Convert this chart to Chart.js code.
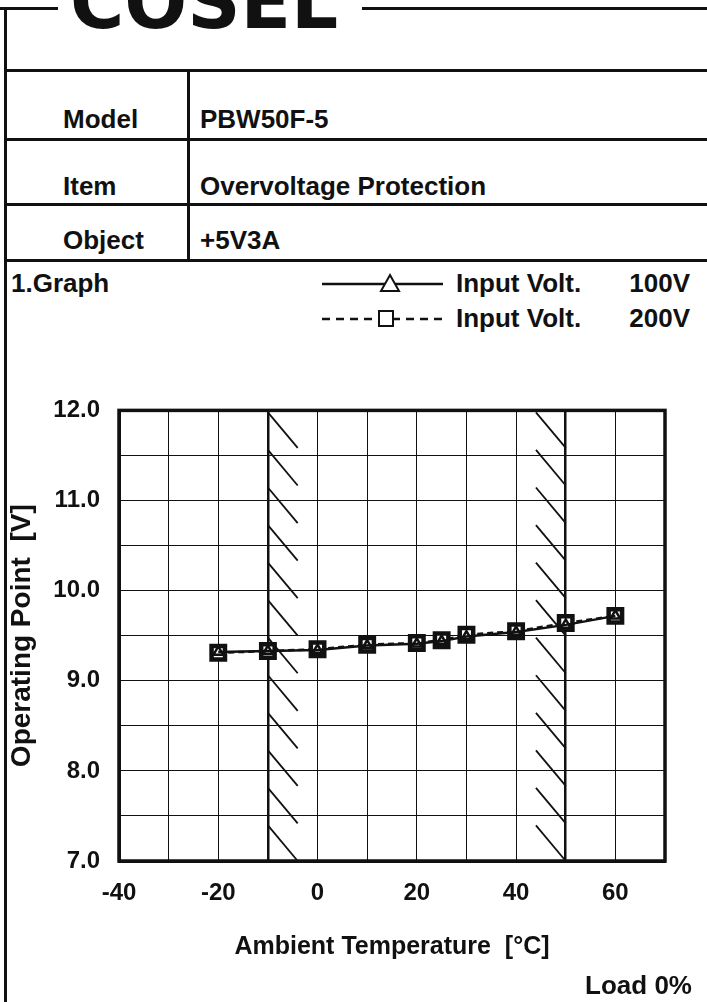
<!DOCTYPE html>
<html>
<head>
<meta charset="utf-8">
<title>PBW50F-5 Overvoltage Protection</title>
<script src="https://cdn.jsdelivr.net/npm/chart.js@4.4.1/dist/chart.umd.min.js"></script>
<style>
    html, body { margin: 0; padding: 0; background: #fff; }
    body {
        width: 707px; height: 1002px; position: relative; overflow: hidden;
        font-family: "Liberation Sans", Arial, sans-serif; font-weight: bold; color: #111;
    }
    .rule { position: absolute; background: #111; }
    .txt { position: absolute; font-size: 26px; line-height: 1; white-space: nowrap; }
    #logo {
        position: absolute; left: 70px; top: -35px;
        font-family: "DejaVu Sans", sans-serif; font-size: 74px; line-height: 74px;
        font-weight: bold;
    }
    #legendMarks { position: absolute; left: 318px; top: 270px; }
    #chartBox { position: absolute; left: 0; top: 377px; }
    #chartBox canvas { display: block; }
</style>
</head>
<body>

<!-- sheet frame and header table -->
<div class="rule" style="left:0;top:7px;width:58px;height:3px"></div>
<div class="rule" style="left:362px;top:7px;width:345px;height:3px"></div>
<div id="logo">COSEL</div>
<div class="rule" style="left:4px;top:7px;width:3px;height:995px"></div>
<div class="rule" style="left:4px;top:69px;width:703px;height:3px"></div>
<div class="rule" style="left:187px;top:70px;width:2.5px;height:190px"></div>
<div class="rule" style="left:4px;top:138px;width:703px;height:2.5px"></div>
<div class="rule" style="left:4px;top:203px;width:703px;height:2.5px"></div>
<div class="rule" style="left:4px;top:259px;width:703px;height:2.5px"></div>

<div class="txt" style="left:63px;top:106px">Model</div>
<div class="txt" style="left:200px;top:106px">PBW50F-5</div>
<div class="txt" style="left:63px;top:173px">Item</div>
<div class="txt" style="left:200px;top:173px">Overvoltage Protection</div>
<div class="txt" style="left:63px;top:227px">Object</div>
<div class="txt" style="left:200px;top:227px">+5V3A</div>

<div class="txt" style="left:11px;top:270px">1.Graph</div>

<!-- legend -->
<svg id="legendMarks" width="132" height="62">
    <line x1="4" y1="14" x2="125" y2="14" stroke="#111" stroke-width="2.5"/>
    <polygon points="72,5 81,21 63,21" fill="#fff" stroke="#111" stroke-width="2"/>
    <line x1="4" y1="49" x2="125" y2="49" stroke="#111" stroke-width="2.5" stroke-dasharray="8,6"/>
    <rect x="61" y="41" width="14" height="15" fill="#fff" stroke="#111" stroke-width="2"/>
</svg>
<div class="txt" style="left:456px;top:270px">Input Volt.</div>
<div class="txt" style="right:17px;top:270px">100V</div>
<div class="txt" style="left:456px;top:305px">Input Volt.</div>
<div class="txt" style="right:17px;top:305px">200V</div>

<div id="chartBox"><canvas id="ovpChart" width="707" height="625"></canvas></div>

<div class="txt" style="right:15px;top:972px">Load 0%</div>

<script>
    const ink = '#111';

    // measured operating points
    const temps = [-20, -10, 0, 10, 20, 25, 30, 40, 50, 60];
    const volt100 = [9.32, 9.33, 9.34, 9.39, 9.41, 9.44, 9.49, 9.54, 9.62, 9.72];
    const volt200 = [9.31, 9.33, 9.35, 9.40, 9.42, 9.45, 9.51, 9.55, 9.64, 9.72];

    // axis ranges / ticks
    const xMin = -40, xMax = 70, xStep = 10;
    const yMin = 7, yMax = 12, yStep = 0.5;
    const xLabelTicks = [-40, -20, 0, 20, 40, 60];

    // operating temperature limits, drawn heavier and hatched
    const limitLines = [-10, 50];
    const hatchBands = [[-10, -4], [44, 50]];
    const hatchRows = 12;

    function points(ys) {
        return temps.map((t, i) => ({ x: t, y: ys[i] }));
    }

    const hatchPlugin = {
        id: 'hatch',
        beforeDatasetsDraw(chart) {
            const { ctx, chartArea, scales } = chart;
            const step = (chartArea.bottom - chartArea.top) / hatchRows;
            ctx.save();
            ctx.strokeStyle = ink;
            ctx.lineWidth = 1.8;
            hatchBands.forEach(([from, to]) => {
                const x0 = scales.x.getPixelForValue(from);
                const x1 = scales.x.getPixelForValue(to);
                for (let i = 0; i < hatchRows; i++) {
                    const top = chartArea.top + i * step;
                    ctx.beginPath();
                    ctx.moveTo(x0, top + 2);
                    ctx.lineTo(x1, top + step);
                    ctx.stroke();
                }
            });
            // heavy frame round the plot
            ctx.lineWidth = 3.5;
            ctx.strokeRect(chartArea.left, chartArea.top, chartArea.width, chartArea.height);
            ctx.restore();
        }
    };

    const fontFamily = '"Liberation Sans", Arial, sans-serif';
    const tickFont = { family: fontFamily, size: 24, weight: 'bold' };

    const config = {
        type: 'line',
        data: {
            datasets: [
                {
                    label: 'Input Volt. 100V',
                    data: points(volt100),
                    borderColor: ink,
                    backgroundColor: 'rgba(255,255,255,0)',
                    borderWidth: 2.5,
                    pointStyle: 'triangle',
                    pointRadius: 5.5,
                    pointBorderWidth: 2.5,
                    pointBorderColor: ink,
                    tension: 0,
                    fill: false,
                },
                {
                    label: 'Input Volt. 200V',
                    data: points(volt200),
                    borderColor: ink,
                    backgroundColor: '#fff',
                    borderWidth: 2.5,
                    borderDash: [6, 4],
                    pointStyle: 'rect',
                    pointRadius: 9.5,
                    pointBorderWidth: 4.5,
                    pointBorderColor: ink,
                    tension: 0,
                    fill: false,
                }
            ]
        },
        options: {
            responsive: false,
            animation: false,
            devicePixelRatio: 1,
            layout: { padding: { top: 2, right: 42, bottom: 0, left: 0 } },
            plugins: {
                legend: { display: false },
                tooltip: { enabled: false },
            },
            scales: {
                x: {
                    type: 'linear',
                    min: xMin,
                    max: xMax,
                    afterFit: (s) => { s.height = 141; },
                    border: { display: true, width: 3, color: ink },
                    grid: {
                        color: ink,
                        drawTicks: false,
                        lineWidth: (c) => (c.tick && limitLines.includes(c.tick.value)) ? 2.5 : 1,
                    },
                    ticks: {
                        stepSize: xStep,
                        autoSkip: false,
                        maxRotation: 0,
                        padding: 18,
                        color: ink,
                        font: tickFont,
                        callback: (v) => xLabelTicks.includes(v) ? String(v) : '',
                    },
                    title: {
                        display: true,
                        text: 'Ambient Temperature  [°C]',
                        color: ink,
                        font: { family: fontFamily, size: 25, weight: 'bold' },
                        padding: { top: 0, bottom: 40 },
                    }
                },
                y: {
                    min: yMin,
                    max: yMax,
                    afterFit: (s) => { s.width = 119; },
                    border: { display: true, width: 3, color: ink },
                    grid: { color: ink, lineWidth: 1, drawTicks: false },
                    ticks: {
                        stepSize: yStep,
                        autoSkip: false,
                        padding: 19,
                        color: ink,
                        font: tickFont,
                        callback: (v) => Number.isInteger(v) ? v.toFixed(1) : '',
                    },
                    title: {
                        display: true,
                        text: 'Operating Point  [V]',
                        color: ink,
                        font: { family: fontFamily, size: 28, weight: 'bold' },
                        padding: { top: 5, bottom: 0 },
                    }
                }
            }
        },
        plugins: [hatchPlugin]
    };

    const ctx = document.getElementById('ovpChart').getContext('2d');
    window.ovpChart = new Chart(ctx, config);
</script>
</body>
</html>
